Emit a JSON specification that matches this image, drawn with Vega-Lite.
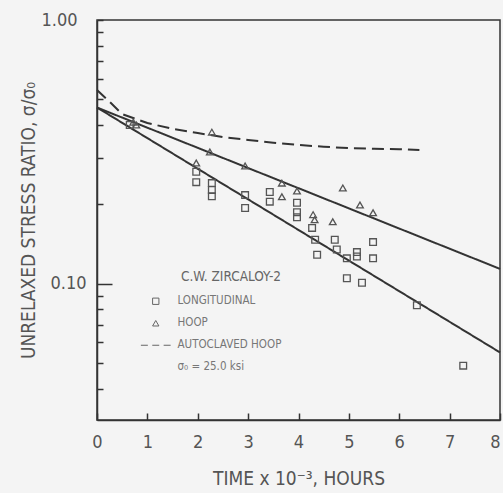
{
  "$schema": "https://vega.github.io/schema/vega-lite/v6.json",
  "width": 403,
  "height": 400,
  "autosize": "none",
  "padding": {"left": 97, "top": 20, "right": 3, "bottom": 73},
  "background": "#f4f4f4",
  "config": {
    "font": "DejaVu Sans Condensed, Liberation Sans, sans-serif",
    "view": {"stroke": "#333", "strokeWidth": 1.5},
    "axis": {
      "domainColor": "#333",
      "domainWidth": 1.5,
      "tickColor": "#333",
      "tickWidth": 1.5,
      "labelColor": "#555",
      "titleColor": "#555",
      "labelFont": "DejaVu Sans Condensed, Liberation Sans, sans-serif",
      "titleFont": "DejaVu Sans Condensed, Liberation Sans, sans-serif",
      "labelFontSize": 18,
      "titleFontSize": 19,
      "titleFontWeight": "normal",
      "grid": false
    }
  },
  "datasets": {
    "points": [
      {"series": "LONGITUDINAL", "t": 0.65, "ratio": 0.40},
      {"series": "LONGITUDINAL", "t": 1.97, "ratio": 0.266},
      {"series": "LONGITUDINAL", "t": 1.97, "ratio": 0.243},
      {"series": "LONGITUDINAL", "t": 2.28, "ratio": 0.241},
      {"series": "LONGITUDINAL", "t": 2.28, "ratio": 0.227},
      {"series": "LONGITUDINAL", "t": 2.28, "ratio": 0.215},
      {"series": "LONGITUDINAL", "t": 2.94, "ratio": 0.217},
      {"series": "LONGITUDINAL", "t": 2.94, "ratio": 0.194},
      {"series": "LONGITUDINAL", "t": 3.43, "ratio": 0.223},
      {"series": "LONGITUDINAL", "t": 3.43, "ratio": 0.205},
      {"series": "LONGITUDINAL", "t": 3.97, "ratio": 0.203},
      {"series": "LONGITUDINAL", "t": 3.97, "ratio": 0.187},
      {"series": "LONGITUDINAL", "t": 3.97, "ratio": 0.179},
      {"series": "LONGITUDINAL", "t": 4.27, "ratio": 0.163},
      {"series": "LONGITUDINAL", "t": 4.33, "ratio": 0.147},
      {"series": "LONGITUDINAL", "t": 4.37, "ratio": 0.129},
      {"series": "LONGITUDINAL", "t": 4.72, "ratio": 0.147},
      {"series": "LONGITUDINAL", "t": 4.76, "ratio": 0.135},
      {"series": "LONGITUDINAL", "t": 4.96, "ratio": 0.125},
      {"series": "LONGITUDINAL", "t": 5.16, "ratio": 0.132},
      {"series": "LONGITUDINAL", "t": 5.16, "ratio": 0.127},
      {"series": "LONGITUDINAL", "t": 5.48, "ratio": 0.144},
      {"series": "LONGITUDINAL", "t": 5.48, "ratio": 0.125},
      {"series": "LONGITUDINAL", "t": 4.96, "ratio": 0.105},
      {"series": "LONGITUDINAL", "t": 5.26, "ratio": 0.101},
      {"series": "LONGITUDINAL", "t": 6.35, "ratio": 0.083},
      {"series": "LONGITUDINAL", "t": 7.27, "ratio": 0.049},
      {"series": "HOOP", "t": 0.72, "ratio": 0.41},
      {"series": "HOOP", "t": 0.78, "ratio": 0.40},
      {"series": "HOOP", "t": 1.97, "ratio": 0.287},
      {"series": "HOOP", "t": 2.24, "ratio": 0.316},
      {"series": "HOOP", "t": 2.28, "ratio": 0.376},
      {"series": "HOOP", "t": 2.94, "ratio": 0.28},
      {"series": "HOOP", "t": 3.67, "ratio": 0.241},
      {"series": "HOOP", "t": 3.67, "ratio": 0.214},
      {"series": "HOOP", "t": 3.97, "ratio": 0.225},
      {"series": "HOOP", "t": 4.29, "ratio": 0.183},
      {"series": "HOOP", "t": 4.32, "ratio": 0.175},
      {"series": "HOOP", "t": 4.68, "ratio": 0.172},
      {"series": "HOOP", "t": 4.88, "ratio": 0.231},
      {"series": "HOOP", "t": 5.22, "ratio": 0.199},
      {"series": "HOOP", "t": 5.48, "ratio": 0.186}
    ],
    "fits": [
      {"fit": "LONGITUDINAL FIT", "t": 0, "ratio": 0.466},
      {"fit": "LONGITUDINAL FIT", "t": 8, "ratio": 0.055},
      {"fit": "HOOP FIT", "t": 0, "ratio": 0.466},
      {"fit": "HOOP FIT", "t": 8, "ratio": 0.114},
      {"fit": "AUTOCLAVED HOOP", "t": 0, "ratio": 0.543},
      {"fit": "AUTOCLAVED HOOP", "t": 0.25, "ratio": 0.49},
      {"fit": "AUTOCLAVED HOOP", "t": 0.5, "ratio": 0.44},
      {"fit": "AUTOCLAVED HOOP", "t": 1, "ratio": 0.407},
      {"fit": "AUTOCLAVED HOOP", "t": 1.5, "ratio": 0.387},
      {"fit": "AUTOCLAVED HOOP", "t": 2, "ratio": 0.373},
      {"fit": "AUTOCLAVED HOOP", "t": 2.5, "ratio": 0.36},
      {"fit": "AUTOCLAVED HOOP", "t": 3, "ratio": 0.351},
      {"fit": "AUTOCLAVED HOOP", "t": 3.5, "ratio": 0.343},
      {"fit": "AUTOCLAVED HOOP", "t": 4, "ratio": 0.336},
      {"fit": "AUTOCLAVED HOOP", "t": 4.5, "ratio": 0.331},
      {"fit": "AUTOCLAVED HOOP", "t": 5, "ratio": 0.327},
      {"fit": "AUTOCLAVED HOOP", "t": 5.5, "ratio": 0.325},
      {"fit": "AUTOCLAVED HOOP", "t": 6, "ratio": 0.324},
      {"fit": "AUTOCLAVED HOOP", "t": 6.4, "ratio": 0.322}
    ]
  },
  "encoding": {
    "x": {
      "field": "t",
      "type": "quantitative",
      "scale": {"domain": [0, 8], "nice": false, "zero": false},
      "axis": {
        "values": [0, 1, 2, 3, 4, 5, 6, 7, 8],
        "tickSize": -7,
        "labelPadding": 20,
        "labelAlign": {"condition": {"test": "datum.value == 8", "value": "right"}, "value": "center"},
        "title": "TIME x 10⁻³, HOURS",
        "titlePadding": 18,
        "labelFlush": false
      }
    },
    "y": {
      "field": "ratio",
      "type": "quantitative",
      "scale": {"type": "log", "domain": [0.0305, 1], "nice": false},
      "axis": {
        "values": [0.04, 0.05, 0.06, 0.07, 0.08, 0.09, 0.1, 0.2, 0.3, 0.4, 0.5, 0.6, 0.7, 0.8, 0.9, 1],
        "labelExpr": "datum.value == 0.1 ? '0.10' : (datum.value == 1 ? '1.00' : '')",
        "tickSize": {"condition": {"test": "datum.value == 0.1", "value": -15}, "value": -6},
        "labelPadding": 26,
        "title": "UNRELAXED STRESS RATIO, σ/σ₀",
        "titlePadding": 2,
        "labelFlush": false
      }
    }
  },
  "layer": [
    {
      "data": {"name": "fits"},
      "mark": {"type": "line", "color": "#333", "strokeWidth": 2},
      "encoding": {
        "detail": {"field": "fit"},
        "strokeDash": {
          "field": "fit",
          "scale": {"domain": ["LONGITUDINAL FIT", "HOOP FIT", "AUTOCLAVED HOOP"], "range": [[1, 0], [1, 0], [12, 6]]},
          "legend": null
        }
      }
    },
    {
      "data": {"name": "points"},
      "mark": {"type": "point", "filled": false, "size": 45, "strokeWidth": 1.3, "color": "#555", "opacity": 1},
      "encoding": {
        "shape": {
          "field": "series",
          "scale": {
            "domain": ["LONGITUDINAL", "HOOP", "AUTOCLAVED HOOP", "σ₀ = 25.0 ksi"],
            "range": ["square", "triangle-up", "M-4.7,0H-2.5M-1.1,0H1.1M2.5,0H4.7", "M0,0"]
          },
          "legend": {
            "orient": "none",
            "legendX": 53,
            "legendY": 250,
            "title": "C.W. ZIRCALOY-2",
            "titleAnchor": "end",
            "titleFont": "DejaVu Sans Condensed, Liberation Sans, sans-serif",
            "labelFont": "DejaVu Sans Condensed, Liberation Sans, sans-serif",
            "titleFontSize": 13.5,
            "titleColor": "#666",
            "titleFontWeight": "normal",
            "titlePadding": 12,
            "labelFontSize": 11.5,
            "labelColor": "#777",
            "labelOffset": 16,
            "symbolSize": 40,
            "symbolStrokeColor": "#666",
            "symbolStrokeWidth": 1,
            "rowPadding": 9
          }
        }
      }
    }
  ]
}
